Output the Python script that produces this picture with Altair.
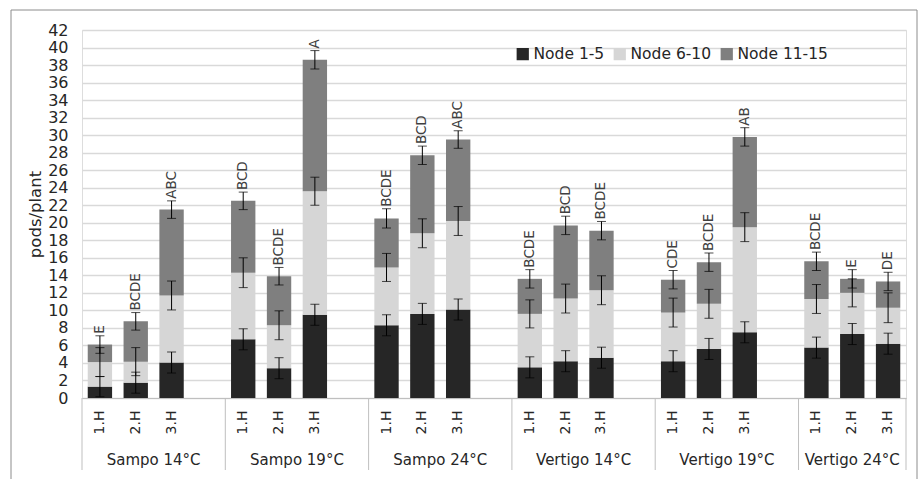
import altair as alt
import pandas as pd

groups = ["Sampo 14°C", "Sampo 19°C", "Sampo 24°C", "Vertigo 14°C", "Vertigo 19°C", "Vertigo 24°C"]
harvests = ["1.H", "2.H", "3.H"]
series = ["Node 1-5", "Node 6-10", "Node 11-15"]
colors = ["#262626", "#d6d6d6", "#7f7f7f"]

node1_5 = [1.3, 1.75, 4.05, 6.7, 3.4, 9.5, 8.3, 9.6, 10.1, 3.5, 4.2, 4.6, 4.2, 5.6, 7.5, 5.75, 7.3, 6.2]
node6_10 = [2.8, 2.4, 7.65, 7.6, 4.9, 14.1, 6.6, 9.2, 10.1, 6.1, 7.15, 7.7, 5.55, 5.15, 12.0, 5.55, 4.7, 4.1]
node11_15 = [2.0, 4.6, 9.8, 8.2, 5.6, 15.0, 5.6, 8.9, 9.3, 4.0, 8.35, 6.8, 3.75, 4.75, 10.3, 4.3, 1.6, 3.0]
err1_5 = [1.15, 1.2, 1.2, 1.2, 1.2, 1.2, 1.2, 1.2, 1.2, 1.2, 1.2, 1.2, 1.2, 1.2, 1.2, 1.2, 1.2, 1.2]
err6_10 = [1.65, 1.6, 1.65, 1.7, 1.65, 1.6, 1.6, 1.65, 1.65, 1.6, 1.65, 1.65, 1.65, 1.65, 1.65, 1.65, 1.6, 1.7]
err11_15 = [1.0, 1.0, 1.0, 1.0, 1.0, 1.05, 1.1, 1.05, 1.0, 1.05, 1.05, 1.05, 1.05, 1.05, 1.05, 1.05, 1.05, 1.05]
letters = ["E", "BCDE", "ABC", "BCD", "BCDE", "A", "BCDE", "BCD", "ABC",
           "BCDE", "BCD", "BCDE", "CDE", "BCDE", "AB", "BCDE", "E", "DE"]
y_ticks = list(range(0, 43, 2))

# category slots (a blank slot separates the groups)
domain = []
keys = []
for gi, g in enumerate(groups):
    for h in harvests:
        k = f"{gi}_{h}"
        domain.append(k)
        keys.append(k)
    if gi < len(groups) - 1:
        domain.append(f"{gi}_")
n_slots = len(domain)

vals = [node1_5, node6_10, node11_15]
errs = [err1_5, err6_10, err11_15]
bar_rows, err_rows, let_rows = [], [], []
for i, k in enumerate(keys):
    cum = 0.0
    top_hi = 0.0
    for si, s in enumerate(series):
        v = vals[si][i]
        e = errs[si][i]
        bar_rows.append({"key": k, "series": s, "y0": cum, "y1": cum + v})
        cum += v
        err_rows.append({"key": k, "lo": cum - e, "hi": cum + e})
        top_hi = max(top_hi, cum + e)
    let_rows.append({"key": k, "y": top_hi, "label": letters[i]})

bars_df = pd.DataFrame(bar_rows)
err_df = pd.DataFrame(err_rows)
let_df = pd.DataFrame(let_rows)

sep_pos = []
glab = []
slot = 0
for gi, g in enumerate(groups):
    sep_pos.append(slot)
    width = 3 if gi == len(groups) - 1 else 4
    glab.append({"pos": slot + width / 2, "name": g})
    slot += width
sep_pos.append(slot)
sep_df = pd.DataFrame({"pos": sep_pos})
glab_df = pd.DataFrame(glab)

FONT = "DejaVu Sans"
xscale = alt.Scale(domain=domain, paddingInner=0.32, paddingOuter=0.16)
xaxis = alt.Axis(title=None, labelAngle=-90, labelExpr="split(datum.value, '_')[1]",
                 ticks=False, domain=True, domainColor="#bfbfbf", domainWidth=1,
                 labelFontSize=14, labelPadding=12, labelColor="#262626", grid=False,
                 labelFont=FONT)
yscale = alt.Scale(domain=[0, 42], nice=False)
yaxis = alt.Axis(title="pods/plant", values=y_ticks, ticks=False, domain=False,
                 labelOverlap=False, tickCount=len(y_ticks),
                 gridColor="#d9d9d9", gridWidth=1.5, labelFontSize=16, labelPadding=14,
                 labelColor="#262626", titleFontSize=16.5, titleFontWeight="normal",
                 titleColor="#262626", titlePadding=4, labelFont=FONT, titleFont=FONT)

bars = alt.Chart(bars_df).mark_bar().encode(
    x=alt.X("key:N", scale=xscale, axis=xaxis, sort=domain),
    y=alt.Y("y0:Q", scale=yscale, axis=yaxis),
    y2="y1:Q",
    color=alt.Color("series:N", scale=alt.Scale(domain=series, range=colors),
                    legend=alt.Legend(title=None, orient="none", legendX=433, legendY=16,
                                      direction="horizontal", symbolType="square",
                                      symbolSize=150, symbolStrokeWidth=0,
                                      labelFontSize=15.5, labelColor="#262626",
                                      columnPadding=7, labelOffset=3, labelFont=FONT)),
)

xs = alt.X("key:N", scale=xscale, sort=domain)
rules = alt.Chart(err_df).mark_rule(color="#000000", strokeWidth=1).encode(
    x=xs, y=alt.Y("lo:Q", scale=yscale), y2="hi:Q")
tick_lo = alt.Chart(err_df).mark_tick(color="#000000", thickness=1, size=9).encode(
    x=xs, y=alt.Y("lo:Q", scale=yscale))
tick_hi = alt.Chart(err_df).mark_tick(color="#000000", thickness=1, size=9).encode(
    x=xs, y=alt.Y("hi:Q", scale=yscale))
labels = alt.Chart(let_df).mark_text(angle=270, align="left", baseline="middle", dx=2,
                                     fontSize=13.5, color="#404040", font=FONT).encode(
    x=xs, y=alt.Y("y:Q", scale=yscale), text="label:N")

inner = alt.layer(bars, rules, tick_lo, tick_hi, labels)

qscale = alt.Scale(domain=[0, n_slots], nice=False, zero=False)
seps = alt.Chart(sep_df).mark_rule(color="#bfbfbf", strokeWidth=1).encode(
    x=alt.X("pos:Q", scale=qscale, axis=None), y=alt.value(368), y2=alt.value(440))
gtext = alt.Chart(glab_df).mark_text(fontSize=15, color="#262626", baseline="middle",
                                     font=FONT).encode(
    x=alt.X("pos:Q", scale=qscale, axis=None), y=alt.value(430), text="name:N")

one = pd.DataFrame({"a": [0]})
border_l = alt.Chart(one).mark_rule(color="#8c8c8c", strokeWidth=1).encode(
    x=alt.value(-71), y=alt.value(-20), y2=alt.value(449))
border_r = alt.Chart(one).mark_rule(color="#8c8c8c", strokeWidth=1).encode(
    x=alt.value(835), y=alt.value(-20), y2=alt.value(449))
border_t = alt.Chart(one).mark_rule(color="#8c8c8c", strokeWidth=1).encode(
    x=alt.value(-71), x2=alt.value(835), y=alt.value(-20))

chart = alt.layer(inner, seps, gtext, border_l, border_r, border_t).resolve_scale(
    x="independent"
).properties(
    width=824, height=368,
    padding={"left": 82, "top": 30, "right": 14, "bottom": 81},
    autosize=alt.AutoSizeParams(type="none"),
    background="white",
).configure_view(stroke=None).configure(font=FONT)

chart.save("out.html", embed_options={"renderer": "svg", "actions": False})
